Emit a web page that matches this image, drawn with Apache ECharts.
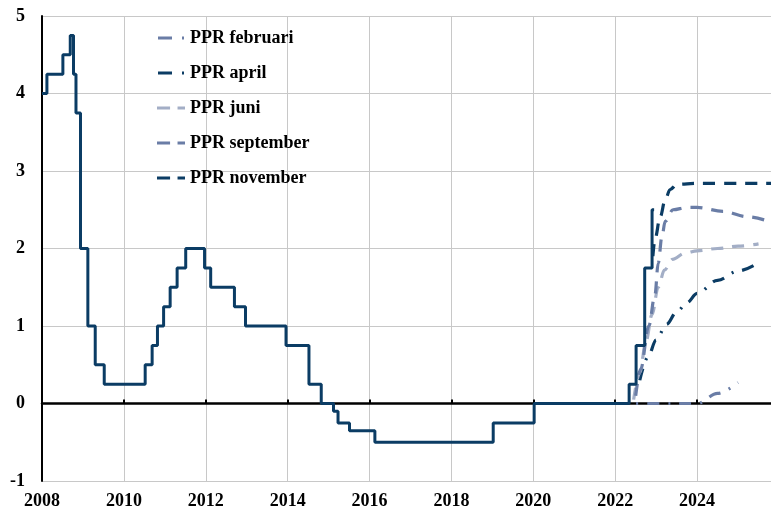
<!DOCTYPE html>
<html>
<head>
<meta charset="utf-8">
<script src="https://cdn.jsdelivr.net/npm/echarts@6/dist/echarts.min.js"></script>
<style>
  html, body { margin: 0; padding: 0; background: #fff; }
  #main { width: 771px; height: 511px; }
</style>
</head>
<body>
<div id="main"></div>
<script>
// reporänta, datum för ändring (decimalår) och ny nivå
const repoDates = [2008.0, 2008.12, 2008.51, 2008.69, 2008.77, 2008.83, 2008.94, 2009.12, 2009.3, 2009.52,
  2010.52, 2010.69, 2010.82, 2010.97, 2011.13, 2011.3, 2011.51, 2011.97, 2012.12, 2012.7, 2012.97,
  2013.96, 2014.52, 2014.82, 2015.12, 2015.23, 2015.51, 2016.13, 2019.02, 2020.02,
  2022.34, 2022.51, 2022.72, 2022.9, 2022.95]
const repoValues = [4.0, 4.25, 4.5, 4.75, 4.25, 3.75, 2.0, 1.0, 0.5, 0.25,
  0.5, 0.75, 1.0, 1.25, 1.5, 1.75, 2.0, 1.75, 1.5, 1.25, 1.0,
  0.75, 0.25, 0.0, -0.1, -0.25, -0.35, -0.5, -0.25, 0.0,
  0.25, 0.75, 1.75, 2.5, 2.5]

// prognoser
const febDates = [2022.0, 2023.0, 2024.0, 2024.5, 2025.0]
const febValues = [0, 0, 0, 0.13, 0.27]
const aprDates = [2022.6, 2022.8, 2023.0, 2023.25, 2023.5, 2023.75, 2024.0, 2024.5, 2025.0, 2025.54]
const aprValues = [0.3, 0.6, 0.82, 1.02, 1.18, 1.3, 1.42, 1.59, 1.71, 1.83]
const junDates = [2022.45, 2022.6, 2022.75, 2022.9, 2023.05, 2023.2, 2023.4, 2023.7, 2024.0, 2024.5, 2025.0, 2025.5]
const junValues = [0.05, 0.4, 0.8, 1.15, 1.5, 1.72, 1.86, 1.94, 1.97, 2.0, 2.03, 2.06]
const sepDates = [2022.5, 2022.62, 2022.82, 2022.97, 2023.05, 2023.14, 2023.22, 2023.41, 2023.75, 2024.0, 2024.63, 2025.22, 2025.82]
const sepValues = [0.1, 0.44, 1.0, 1.4, 1.81, 2.15, 2.35, 2.5, 2.53, 2.53, 2.48, 2.41, 2.34]
const novDates = [2022.92, 2022.97, 2023.1, 2023.22, 2023.34, 2023.51, 2024.0, 2025.82]
const novValues = [1.9, 2.12, 2.41, 2.63, 2.76, 2.83, 2.84, 2.84]

const xTicks = [2008, 2010, 2012, 2014, 2016, 2018, 2020, 2022, 2024]

const navy = '#0b3c64'
const slate = '#6a7da6'
const light = '#a3aec6'
const serif = '"Liberation Serif", "Times New Roman", serif'

const iconDash = 'path://M0,0H14V3H0Z M22,0H30V3H22Z'
const iconDashDot = 'path://M0,0H14V3H0Z M24,0H26V3H24Z'

function pairs (xs, ys) {
  const out = []
  for (let i = 0; i < xs.length; i++) {
    out.push([xs[i], ys[i]])
  }
  return out
}

function forecast (name, xs, ys, color, dash) {
  return {
    name: name,
    type: 'line',
    data: pairs(xs, ys),
    symbol: 'none',
    smooth: 0.35,
    smoothMonotone: 'x',
    color: color,
    lineStyle: { color: color, width: 3.2, type: dash, cap: 'butt' },
    z: 3
  }
}

const chart = echarts.init(document.getElementById('main'))
const option = {
  animation: false,
  backgroundColor: '#ffffff',
  grid: { left: 42, right: -8, top: 16, bottom: 30, containLabel: false, outerBoundsMode: 'none' },
  legend: {
    orient: 'vertical',
    left: 157,
    top: 28,
    padding: 0,
    itemWidth: 28,
    itemHeight: 3,
    itemGap: 15,
    itemStyle: { borderWidth: 0 },
    textStyle: { fontFamily: serif, fontWeight: 'bold', fontSize: 18, color: '#000', lineHeight: 20 },
    data: [
      { name: 'PPR februari', icon: iconDashDot },
      { name: 'PPR april', icon: iconDashDot },
      { name: 'PPR juni', icon: iconDash },
      { name: 'PPR september', icon: iconDash },
      { name: 'PPR november', icon: iconDash }
    ]
  },
  xAxis: [
    {
      type: 'value',
      position: 'bottom',
      min: xTicks[0],
      max: 2026,
      interval: 2,
      axisLine: { show: false, onZero: false },
      axisTick: { show: false },
      axisLabel: {
        showMaxLabel: false,
        margin: 11,
        fontFamily: serif,
        fontWeight: 'bold',
        fontSize: 18,
        color: '#000',
        formatter: function (v) { return xTicks.indexOf(v) >= 0 ? String(v) : '' }
      },
      splitLine: { show: true, lineStyle: { color: '#c8c8c8', width: 1 } }
    },
    {
      type: 'value',
      position: 'bottom',
      min: xTicks[0],
      max: 2026,
      interval: 2,
      axisLine: { show: true, onZero: true, lineStyle: { color: '#000', width: 2.5 } },
      axisTick: { show: true, inside: true, length: 4, lineStyle: { color: '#000', width: 2 } },
      axisLabel: { show: false },
      splitLine: { show: false }
    }
  ],
  yAxis: {
    type: 'value',
    min: -1,
    max: 5,
    interval: 1,
    axisLine: { show: true, onZero: false, lineStyle: { color: '#000', width: 2 } },
    axisTick: { show: false },
    axisLabel: { margin: 17, fontFamily: serif, fontWeight: 'bold', fontSize: 18, color: '#000' },
    splitLine: { show: true, lineStyle: { color: '#c8c8c8', width: 1 } }
  },
  series: [
    forecast('PPR februari', febDates, febValues, slate, [12, 9, 2, 9]),
    forecast('PPR april', aprDates, aprValues, navy, [12, 9, 2, 9]),
    forecast('PPR juni', junDates, junValues, light, [12, 9]),
    forecast('PPR september', sepDates, sepValues, slate, [12, 9]),
    forecast('PPR november', novDates, novValues, navy, [12, 9]),
    {
      name: 'Reporänta',
      type: 'line',
      step: 'end',
      data: pairs(repoDates, repoValues),
      symbol: 'none',
      color: navy,
      lineStyle: { color: navy, width: 3 },
      z: 4
    }
  ]
}
chart.setOption(option)
</script>
</body>
</html>
